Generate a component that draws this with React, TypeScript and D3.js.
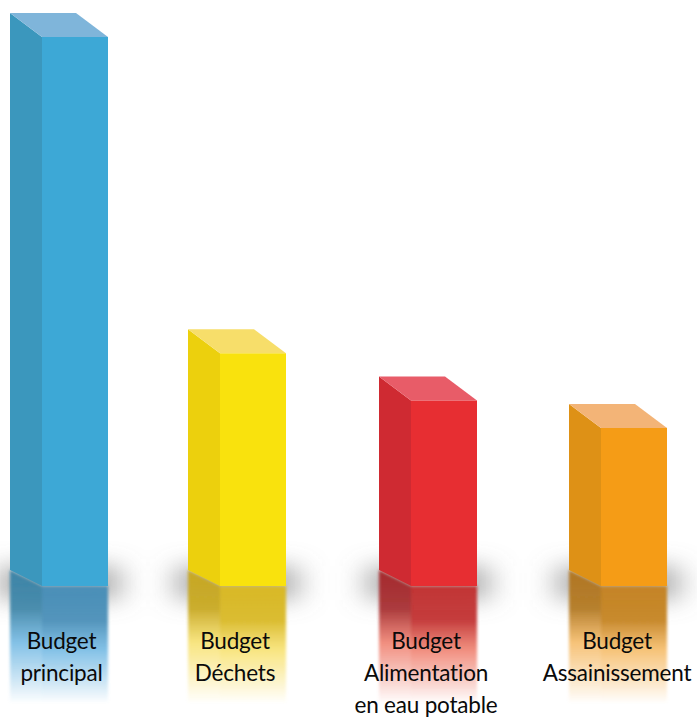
import React from "react";
import * as d3 from "d3";

const categories = ["principal", "dechets", "eau", "assainissement"];
const values = [100, 42.4, 33.8, 28.8];
const labels = [
  ["Budget", "principal"],
  ["Budget", "Déchets"],
  ["Budget", "Alimentation", "en eau potable"],
  ["Budget", "Assainissement"],
];
const frontColors = ["#3ea8d6", "#f9e20f", "#e72f30", "#f59c17"];
const sideColors = ["#3a97bd", "#ecd010", "#cf2c30", "#de9113"];
const topColors = ["#7fb5da", "#f7de6a", "#e85b68", "#f3b477"];
const reflectColors = ["#4a8fb8", "#d9b928", "#c23434", "#c58424"];
const reflectMid = ["#6db6e2", "#f7e06a", "#ee7a68", "#f5b860"];
const reflectSide = ["#3d85a8", "#c8a820", "#a62c2e", "#b27720"];

const W = 697, H = 717, BASE = 586;
const y = d3.scaleLinear().domain([0, 100]).range([BASE, 37]);
const x = d3.scaleOrdinal<string, number>().domain(categories).range([42, 220, 411, 601]);
const labelX = d3.scaleOrdinal<string, number>().domain(categories).range([61.5, 235, 426, 617]);
const FRONT = 66, SIDE = 32, RISE = 24, SIDE_DROP = 16, REFLECT = 116;
const line = d3.line();
const poly = (p: [number, number][]) => line(p)! + "Z";

export default function App() {
  return (
    <svg width={W} height={H} style={{ position: "absolute", left: 0, top: 0, background: "#fff" }}>
      <defs>
        <filter id="blur" filterUnits="userSpaceOnUse" x="-60" y="500" width="820" height="180">
          <feGaussianBlur stdDeviation="15 11" />
        </filter>
        <filter id="bar" filterUnits="userSpaceOnUse" x="0" y="0" width={W} height={H}>
          <feGaussianBlur stdDeviation="0.7" />
        </filter>
        <filter id="soft" filterUnits="userSpaceOnUse" x="0" y="560" width={W} height="157">
          <feGaussianBlur stdDeviation="1.5" />
        </filter>
        {categories.map((c, i) => (
          <React.Fragment key={c}>
            <linearGradient id={`rf${i}`} x1="0" y1="0" x2="0" y2="1">
              <stop offset="0" stopColor={reflectColors[i]} />
              <stop offset="0.3" stopColor={reflectColors[i]} stopOpacity={0.95} />
              <stop offset="0.55" stopColor={reflectMid[i]} stopOpacity={0.85} />
              <stop offset="0.8" stopColor={reflectMid[i]} stopOpacity={0.4} />
              <stop offset="1" stopColor={reflectMid[i]} stopOpacity={0.03} />
            </linearGradient>
            <linearGradient id={`rs${i}`} x1="0" y1="0" x2="0" y2="1">
              <stop offset="0" stopColor={reflectSide[i]} />
              <stop offset="0.3" stopColor={reflectSide[i]} stopOpacity={0.92} />
              <stop offset="0.55" stopColor={reflectMid[i]} stopOpacity={0.85} />
              <stop offset="0.8" stopColor={reflectMid[i]} stopOpacity={0.4} />
              <stop offset="1" stopColor={reflectMid[i]} stopOpacity={0.03} />
            </linearGradient>
          </React.Fragment>
        ))}
      </defs>
      <g filter="url(#blur)">
        {categories.map((c) => {
          const fx = x(c);
          return (
            <rect key={c} x={fx - SIDE - 12} y={BASE - 20} width={FRONT + SIDE + 24} height={34}
              fill="#7a7a7a" opacity={0.62} />
          );
        })}
      </g>
      {categories.map((c, i) => {
        const fx = x(c);
        const top = y(values[i]);
        const l = fx - SIDE;
        return (
          <g key={c}>
            <g filter="url(#soft)">
              <rect x={fx} y={BASE} width={FRONT} height={REFLECT} fill={`url(#rf${i})`} />
              <path d={poly([[l, BASE - SIDE_DROP], [fx, BASE], [fx, BASE + REFLECT], [l, BASE + REFLECT]])}
                fill={`url(#rs${i})`} />
            </g>
            <g filter="url(#bar)">
              <rect x={fx} y={top} width={FRONT} height={BASE - top} fill={frontColors[i]} />
              <path d={poly([[l, top - RISE], [fx, top], [fx, BASE], [l, BASE - SIDE_DROP]])} fill={sideColors[i]} />
              <path d={poly([[l, top - RISE], [fx + FRONT - SIDE, top - RISE], [fx + FRONT, top], [fx, top]])} fill={topColors[i]} />
            </g>
          </g>
        );
      })}
      {categories.map((c, i) => (
        <text key={c} textAnchor="middle" fontFamily="Lato" fontSize={22.5} fill="#0a0a0a" letterSpacing={-0.2}>
          {labels[i].map((t, j) => (
            <tspan key={t} x={labelX(c)} y={649 + j * 32}>{t}</tspan>
          ))}
        </text>
      ))}
    </svg>
  );
}
